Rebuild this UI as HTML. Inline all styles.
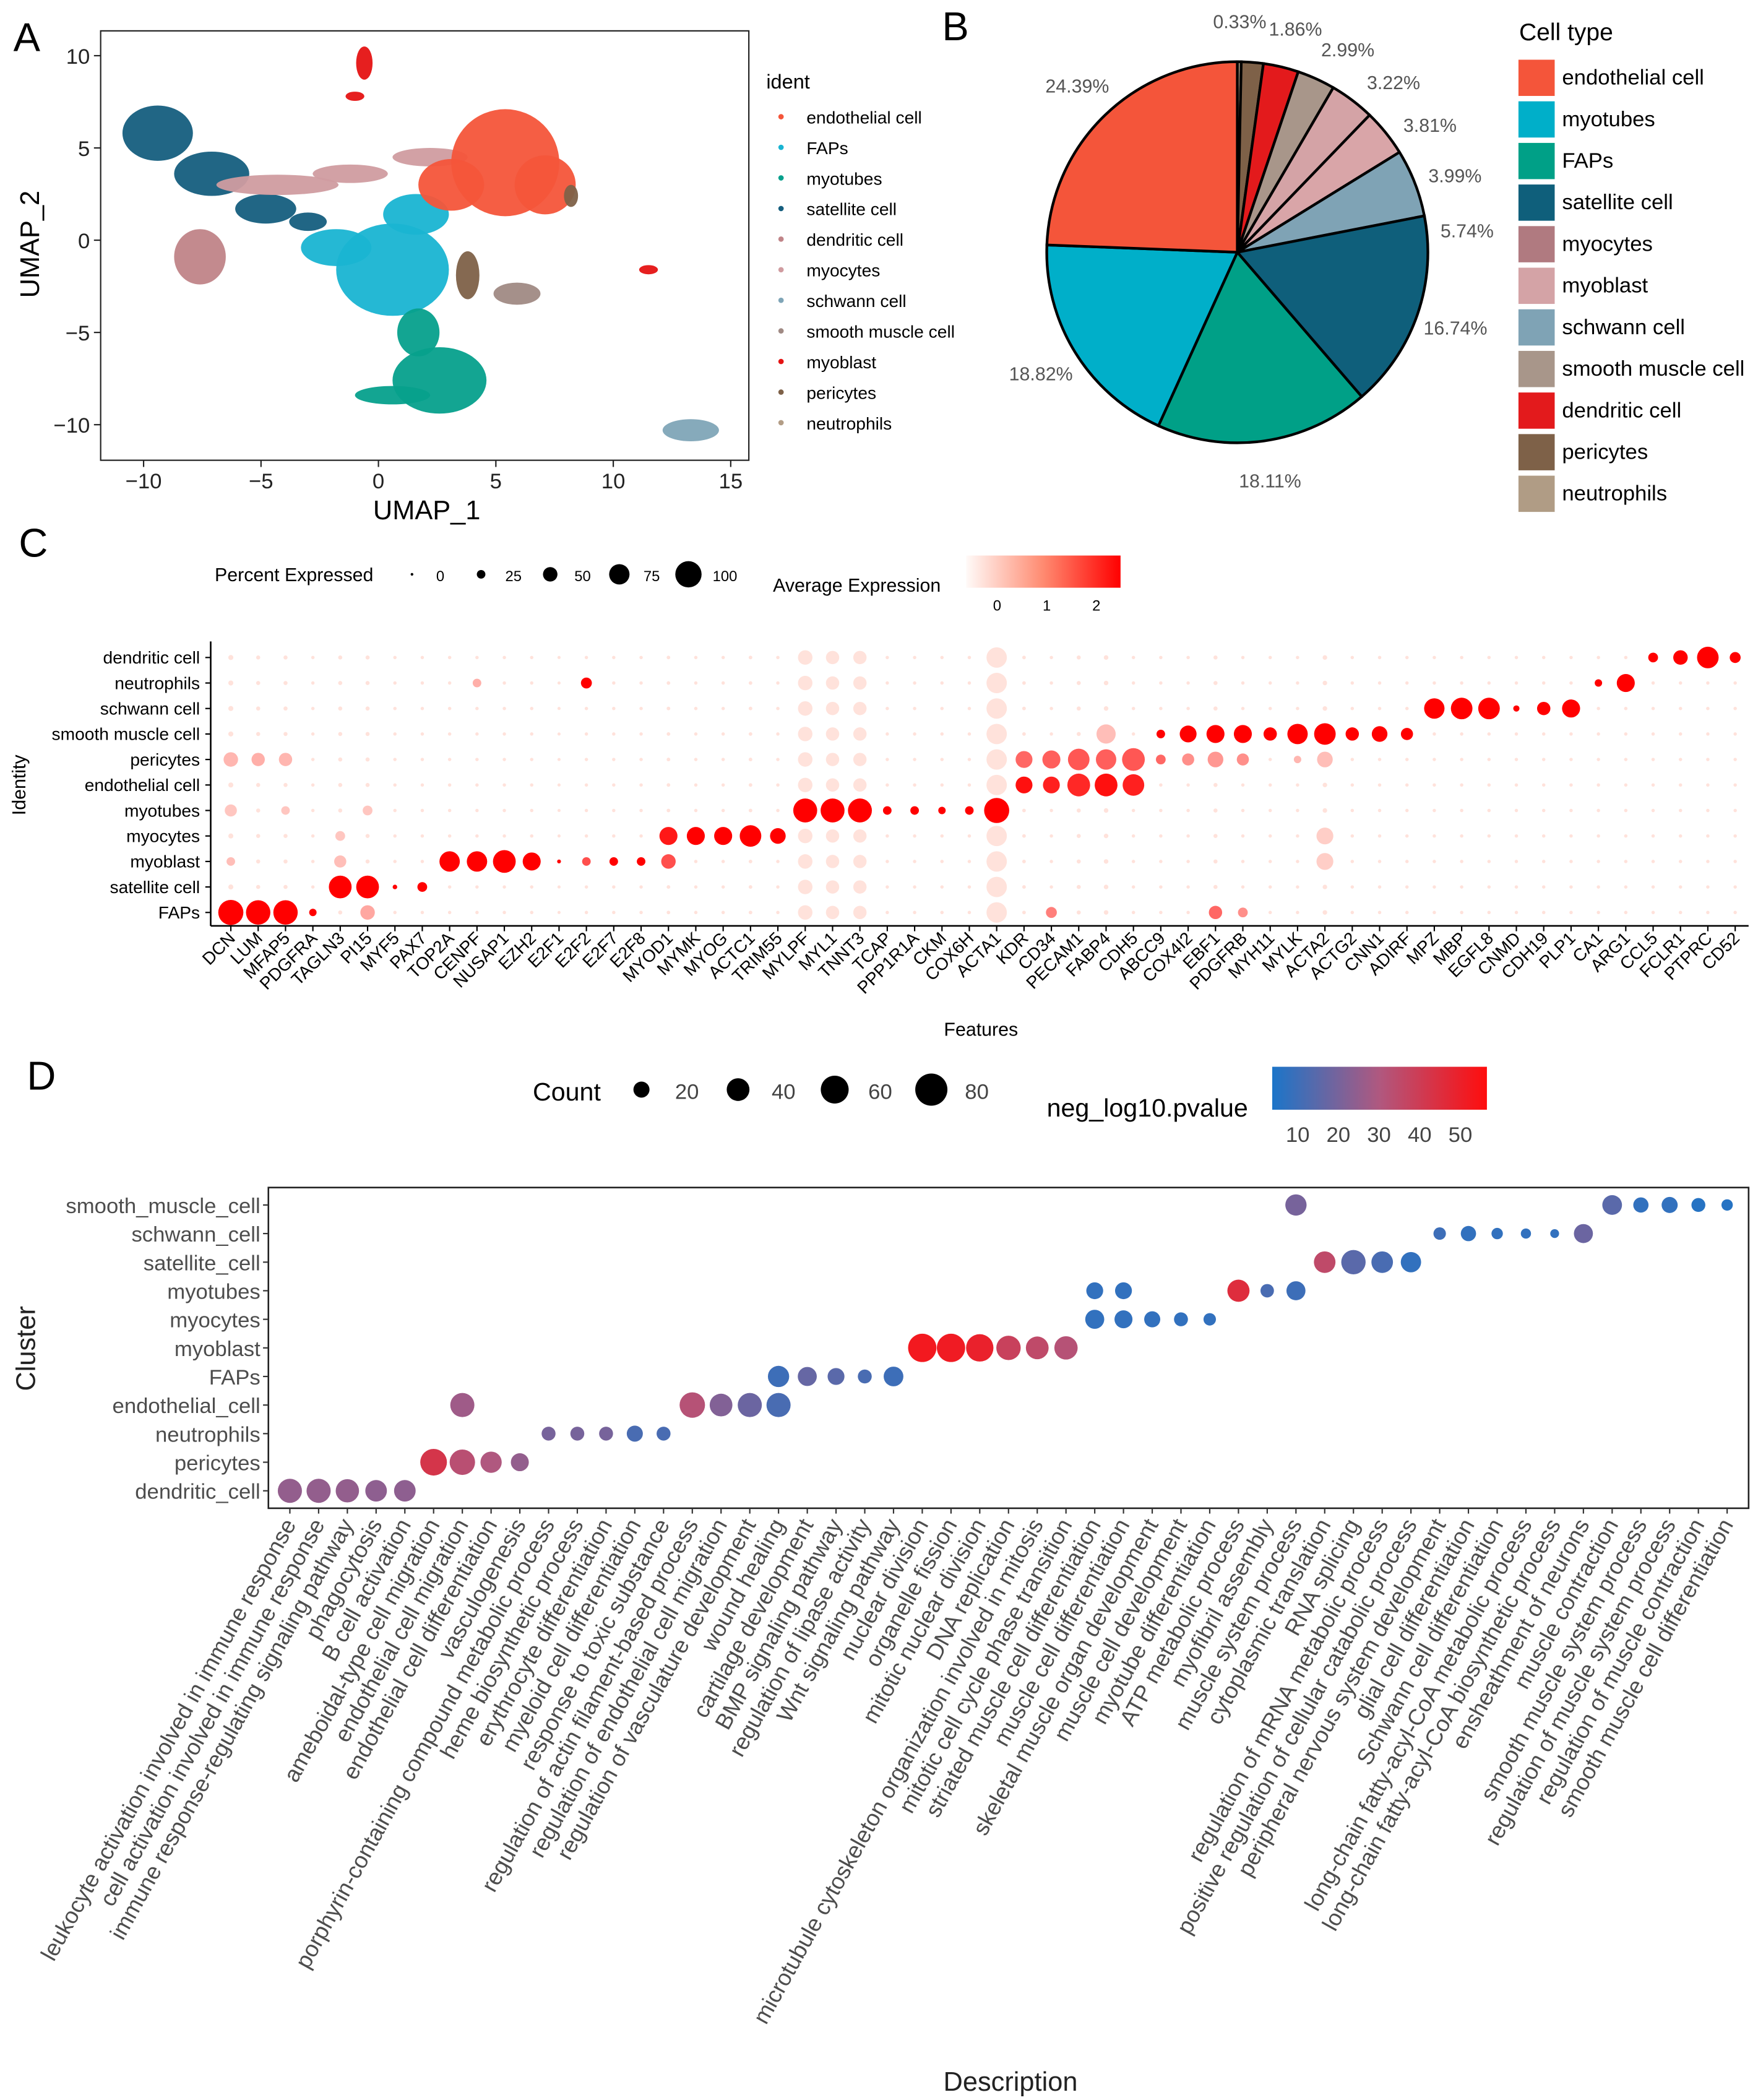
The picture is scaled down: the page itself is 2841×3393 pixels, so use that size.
<!DOCTYPE html>
<html><head><meta charset="utf-8"><style>
html,body{margin:0;padding:0;background:#fff;}
svg{display:block;font-family:"Liberation Sans",Arial,sans-serif;}
</style></head><body>
<svg id="fig" xmlns="http://www.w3.org/2000/svg" width="2841" height="3393" viewBox="0 0 1310 1565" preserveAspectRatio="none">
<rect x="0" y="0" width="1310" height="1565" fill="#fff"/>
<g id="panelA"></g>
<g id="panelB"></g>
<g id="panelC"></g>
<g id="panelD"></g>
</svg>
<script>
// ===== Panel A data =====
const umapXTicks = [-10,-5,0,5,10,15];
const umapYTicks = [10,5,0,-5,-10];
const identNames = ["endothelial cell","FAPs","myotubes","satellite cell","dendritic cell","myocytes","schwann cell","smooth muscle cell","myoblast","pericytes","neutrophils"];
const identColors = ["#f4553a","#19b4d2","#06a08c","#155e7e","#c08488","#d09ca0","#7fa5b7","#a08a84","#e51313","#7e6148","#b39d86"];
const blobIdent = ["satellite cell","satellite cell","satellite cell","satellite cell","dendritic cell","myocytes","myocytes","myocytes","FAPs","FAPs","FAPs","myotubes","myotubes","myotubes","endothelial cell","endothelial cell","endothelial cell","pericytes","smooth muscle cell","myoblast","myoblast","myoblast","schwann cell","pericytes"];
const blobX = [-9.4,-7.1,-4.8,-3.0,-7.6,-4.3,-1.2,2.2,0.6,-1.8,1.6,2.6,0.6,1.7,5.4,3.1,7.1,3.8,5.9,11.5,-0.6,-1.0,13.3,8.2];
const blobY = [5.8,3.6,1.7,1.0,-0.9,3.0,3.6,4.5,-1.6,-0.4,1.4,-7.6,-8.4,-5.0,4.2,3.0,3.0,-1.9,-2.9,-1.6,9.6,7.8,-10.3,2.4];
const blobRX = [1.5,1.6,1.3,0.8,1.1,2.6,1.6,1.6,2.4,1.5,1.4,2.0,1.6,0.9,2.3,1.4,1.3,0.5,1.0,0.4,0.35,0.4,1.2,0.3];
const blobRY = [1.5,1.2,0.8,0.5,1.5,0.55,0.5,0.5,2.5,1.0,1.1,1.8,0.5,1.3,2.9,1.4,1.6,1.3,0.6,0.25,0.9,0.25,0.6,0.6];
// ===== Panel B data =====
const pieLabels = ["neutrophils","pericytes","dendritic cell","smooth muscle cell","schwann cell","myoblast","myocytes","satellite cell","FAPs","myotubes","endothelial cell"];
const pieValues = [0.33,1.86,2.99,3.22,3.81,3.99,5.74,16.74,18.11,18.82,24.39];
const pieColors = ["#b09c85","#7e6148","#e31a1c","#a8968a","#d4a3a6","#d9a5a8","#7fa3b5","#0f5f7b","#00a087","#00afc9","#f4553a"];
const legendOrder = ["endothelial cell","myotubes","FAPs","satellite cell","myocytes","myoblast","schwann cell","smooth muscle cell","dendritic cell","pericytes","neutrophils"];
const legendColors = ["#f4553a","#00afc9","#00a087","#0f5f7b","#b07a80","#d4a3a6","#7fa3b5","#a8968a","#e31a1c","#7e6148","#b09c85"];
// ===== Panel C data =====
const genes = ["DCN","LUM","MFAP5","PDGFRA","TAGLN3","PI15","MYF5","PAX7","TOP2A","CENPF","NUSAP1","EZH2","E2F1","E2F2","E2F7","E2F8","MYOD1","MYMK","MYOG","ACTC1","TRIM55","MYLPF","MYL1","TNNT3","TCAP","PPP1R1A","CKM","COX6H","ACTA1","KDR","CD34","PECAM1","FABP4","CDH5","ABCC9","COX4I2","EBF1","PDGFRB","MYH11","MYLK","ACTA2","ACTG2","CNN1","ADIRF","MPZ","MBP","EGFL8","CNMD","CDH19","PLP1","CA1","ARG1","CCL5","FCLR1","PTPRC","CD52"];
const identC = ["FAPs","satellite cell","myoblast","myocytes","myotubes","endothelial cell","pericytes","smooth muscle cell","schwann cell","neutrophils","dendritic cell"];
const basePct = [10,6,6,3,6,6,3,3,3,3,3,3,2,3,3,3,4,3,3,4,3,50,45,45,3,3,3,3,75,4,3,6,8,3,3,3,6,3,3,3,8,3,3,3,3,3,3,3,3,3,3,3,3,3,3,3];
const mGene = ["DCN","LUM","MFAP5","PDGFRA","PI15","CD34","EBF1","PDGFRB",
"TAGLN3","PI15","MYF5","PAX7",
"TOP2A","CENPF","NUSAP1","EZH2","E2F1","E2F2","E2F7","E2F8","MYOD1","TAGLN3","DCN","ACTA2",
"MYOD1","MYMK","MYOG","ACTC1","TRIM55","TAGLN3","ACTA2",
"MYLPF","MYL1","TNNT3","TCAP","PPP1R1A","CKM","COX6H","ACTA1","DCN","PI15","MFAP5",
"KDR","CD34","PECAM1","FABP4","CDH5",
"DCN","LUM","MFAP5","KDR","CD34","PECAM1","FABP4","CDH5","ABCC9","COX4I2","EBF1","PDGFRB","MYLK","ACTA2",
"ABCC9","COX4I2","EBF1","PDGFRB","MYH11","MYLK","ACTA2","ACTG2","CNN1","ADIRF","FABP4",
"MPZ","MBP","EGFL8","CNMD","CDH19","PLP1",
"E2F2","CENPF","CA1","ARG1",
"CCL5","FCLR1","PTPRC","CD52"];
const mRow = ["FAPs","FAPs","FAPs","FAPs","FAPs","FAPs","FAPs","FAPs",
"satellite cell","satellite cell","satellite cell","satellite cell",
"myoblast","myoblast","myoblast","myoblast","myoblast","myoblast","myoblast","myoblast","myoblast","myoblast","myoblast","myoblast",
"myocytes","myocytes","myocytes","myocytes","myocytes","myocytes","myocytes",
"myotubes","myotubes","myotubes","myotubes","myotubes","myotubes","myotubes","myotubes","myotubes","myotubes","myotubes",
"endothelial cell","endothelial cell","endothelial cell","endothelial cell","endothelial cell",
"pericytes","pericytes","pericytes","pericytes","pericytes","pericytes","pericytes","pericytes","pericytes","pericytes","pericytes","pericytes","pericytes","pericytes",
"smooth muscle cell","smooth muscle cell","smooth muscle cell","smooth muscle cell","smooth muscle cell","smooth muscle cell","smooth muscle cell","smooth muscle cell","smooth muscle cell","smooth muscle cell","smooth muscle cell",
"schwann cell","schwann cell","schwann cell","schwann cell","schwann cell","schwann cell",
"neutrophils","neutrophils","neutrophils","neutrophils",
"dendritic cell","dendritic cell","dendritic cell","dendritic cell"];
const mPct = [95,92,92,20,50,35,45,30, 85,85,8,30, 75,75,85,65,5,25,25,25,50,40,25,60, 65,65,65,80,55,30,60, 90,90,90,25,25,20,25,95,40,30,25, 60,60,85,85,80, 50,45,45,60,65,80,75,85,30,40,55,40,20,55, 25,60,65,65,45,75,80,45,55,40,70, 75,80,80,15,45,65, 35,25,20,65, 30,50,80,35];
const mExpr = [2.5,2.5,2.5,2.5,0.4,0.9,1.2,0.7, 2.5,2.5,2.5,2.5, 2.5,2.5,2.5,2.5,2.5,1.5,2.5,2.5,1.5,0.1,0.1,-0.1, 2.2,2.5,2.5,2.5,2.5,0,-0.1, 2.5,2.5,2.5,2.5,2.5,2.5,2.5,2.5,0,0,0, 2.3,2.1,2.0,2.3,2.1, 0.2,0.3,0.2,1.2,1.3,1.4,1.3,1.4,1.2,0.7,0.6,0.7,0.2,0.1, 2.5,2.5,2.5,2.5,2.5,2.5,2.5,2.5,2.5,2.5,0.1, 2.5,2.5,2.5,2.5,2.5,2.5, 2.5,0.3,2.5,2.5, 2.5,2.5,2.5,2.5];
const pctLegend = [0,25,50,75,100];
const exprTicks = [0,1,2];
// ===== Panel D data =====
const descs = ["leukocyte activation involved in immune response","cell activation involved in immune response","immune response-regulating signaling pathway","phagocytosis","B cell activation","ameboidal-type cell migration","endothelial cell migration","endothelial cell differentiation","vasculogenesis","porphyrin-containing compound metabolic process","heme biosynthetic process","erythrocyte differentiation","myeloid cell differentiation","response to toxic substance","regulation of actin filament-based process","regulation of endothelial cell migration","regulation of vasculature development","wound healing","cartilage development","BMP signaling pathway","regulation of lipase activity","Wnt signaling pathway","nuclear division","organelle fission","mitotic nuclear division","DNA replication","microtubule cytoskeleton organization involved in mitosis","mitotic cell cycle phase transition","striated muscle cell differentiation","muscle cell differentiation","skeletal muscle organ development","muscle cell development","myotube differentiation","ATP metabolic process","myofibril assembly","muscle system process","cytoplasmic translation","RNA splicing","regulation of mRNA metabolic process","positive regulation of cellular catabolic process","peripheral nervous system development","glial cell differentiation","Schwann cell differentiation","long-chain fatty-acyl-CoA metabolic process","long-chain fatty-acyl-CoA biosynthetic process","ensheathment of neurons","muscle contraction","smooth muscle system process","regulation of muscle system process","regulation of muscle contraction","smooth muscle cell differentiation"];
const clusters = ["dendritic_cell","pericytes","neutrophils","endothelial_cell","FAPs","myoblast","myocytes","myotubes","satellite_cell","schwann_cell","smooth_muscle_cell"];
const dIdx = [0,1,2,3,4, 5,6,7,8, 6,14,15,16,17, 9,10,11,12,13, 17,18,19,20,21, 22,23,24,25,26,27, 28,29,30,31,32, 28,29,33,34,35, 35, 36,37,38,39, 40,41,42,43,44,45, 46,47,48,49,50];
const dRow = ["dendritic_cell","dendritic_cell","dendritic_cell","dendritic_cell","dendritic_cell",
"pericytes","pericytes","pericytes","pericytes",
"endothelial_cell","endothelial_cell","endothelial_cell","endothelial_cell","endothelial_cell",
"neutrophils","neutrophils","neutrophils","neutrophils","neutrophils",
"FAPs","FAPs","FAPs","FAPs","FAPs",
"myoblast","myoblast","myoblast","myoblast","myoblast","myoblast",
"myocytes","myocytes","myocytes","myocytes","myocytes",
"myotubes","myotubes","myotubes","myotubes","myotubes",
"smooth_muscle_cell",
"satellite_cell","satellite_cell","satellite_cell","satellite_cell",
"schwann_cell","schwann_cell","schwann_cell","schwann_cell","schwann_cell","schwann_cell",
"smooth_muscle_cell","smooth_muscle_cell","smooth_muscle_cell","smooth_muscle_cell","smooth_muscle_cell"];
const dCount = [45,45,42,36,36, 55,50,35,25, 45,50,40,45,45, 15,15,15,20,15, 35,28,22,15,30, 62,62,58,46,40,42, 28,25,20,15,12, 22,22,38,14,28, 35, 36,46,36,32, 12,18,10,8,6,28, 30,18,20,15,10];
const dP = [25,25,25,24,24, 42,33,30,25, 27,32,22,18,12, 20,20,20,12,12, 10,17,15,12,10, 52,51,49,38,35,32, 8,8,8,8,8, 8,8,45,12,10, 20, 35,15,12,8, 10,8,8,8,8,18, 15,8,8,6,6];
const countLegend = [20,40,60,80];
const pTicks = [10,20,30,40,50];

// ===== helpers =====
const NS="http://www.w3.org/2000/svg";
function mk(tag,parent,attrs,txt){const e=document.createElementNS(NS,tag);for(const k in attrs)e.setAttribute(k,attrs[k]);if(txt!==undefined)e.textContent=txt;parent.appendChild(e);return e;}
function lerp(a,b,t){return a+(b-a)*t;}
function rgb(r,g,b){return "rgb("+Math.round(r)+","+Math.round(g)+","+Math.round(b)+")";}

// ===== Panel A =====
(function(){
const g=document.getElementById('panelA');
const X0=75,X1=558,Y0=23,Y1=343;
const sx=u=>282+u*17.5, sy=v=>179-v*13.75;
let t=mk('text',g,{x:10,y:38,'font-size':30},'A');


let box=mk('rect',g,{x:X0,y:Y0,width:X1-X0,height:Y1-Y0,fill:'#fff',stroke:'#222','stroke-width':1});


blobIdent.forEach((n,i)=>{
 const c=identColors[identNames.indexOf(n)];
 const e=mk('ellipse',g,{cx:sx(blobX[i]),cy:sy(blobY[i]),rx:blobRX[i]*17.5,ry:blobRY[i]*13.75,fill:c,opacity:0.95});
 
 
});
umapXTicks.forEach(v=>{
 const l=mk('line',g,{x1:sx(v),x2:sx(v),y1:Y1,y2:Y1+5,stroke:'#222'});
 
 
 const tt=mk('text',g,{x:sx(v),y:Y1+21,'font-size':16,'text-anchor':'middle',fill:'#222'},v<0?'\u2212'+(-v):String(v));
 
 
});
umapYTicks.forEach(v=>{
 const l=mk('line',g,{x1:X0-5,x2:X0,y1:sy(v),y2:sy(v),stroke:'#222'});
 
 
 const tt=mk('text',g,{x:X0-8,y:sy(v)+6,'font-size':16,'text-anchor':'end',fill:'#222'},v<0?'\u2212'+(-v):String(v));
 
 
});
t=mk('text',g,{x:318,y:387,'font-size':20,'text-anchor':'middle'},'UMAP_1');


t=mk('text',g,{x:29,y:182,'font-size':20,'text-anchor':'middle',transform:'rotate(-90 29 182)'},'UMAP_2');


t=mk('text',g,{x:571,y:66,'font-size':15},'ident');


identNames.forEach((n,i)=>{
 const y=87+i*22.8;
 const c=mk('circle',g,{cx:582,cy:y,r:2,fill:identColors[i]});
 
 
 const tt=mk('text',g,{x:601,y:y+5,'font-size':13},n);
 
 
});
})();

// ===== Panel B =====
(function(){
const g=document.getElementById('panelB');
const cx=922,cy=188,R=142;
let t=mk('text',g,{x:702,y:30,'font-size':30},'B');


const total=pieValues.reduce((a,b)=>a+b,0);
let acc=0, prevDeg=-112;
pieValues.forEach((v,i)=>{
 const a0=acc/total*2*Math.PI-Math.PI/2; acc+=v; const a1=acc/total*2*Math.PI-Math.PI/2;
 const large=(a1-a0)>Math.PI?1:0;
 const d='M'+cx+','+cy+' L'+(cx+R*Math.cos(a0))+','+(cy+R*Math.sin(a0))+' A'+R+','+R+' 0 '+large+' 1 '+(cx+R*Math.cos(a1))+','+(cy+R*Math.sin(a1))+' Z';
 const p=mk('path',g,{d:d,fill:pieColors[i],stroke:'#000','stroke-width':2});
 
 
 let deg=(a0+a1)/2*180/Math.PI;
 if(deg<prevDeg+14) deg=prevDeg+14;
 prevDeg=deg;
 const am=deg*Math.PI/180, rr=R+30;
 const lx=cx+rr*Math.cos(am), ly=cy+rr*Math.sin(am)+5;
 const tt=mk('text',g,{x:lx,y:ly,'font-size':14,fill:'#555','text-anchor':'middle'},v.toFixed(2)+'%');
 
 
});
t=mk('text',g,{x:1132,y:30,'font-size':18},'Cell type');


legendOrder.forEach((n,i)=>{
 const y=44+i*31;
 const r=mk('rect',g,{x:1131,y:y,width:28,height:28,fill:legendColors[i],stroke:'#fff'});
 
 
 const tt=mk('text',g,{x:1164,y:y+19,'font-size':16},n);
 
 
});
})();

// ===== Panel C =====
(function(){
const g=document.getElementById('panelC');
const X0=157,X1=1303,Yb=690,Yt=478;
const gx=i=>172+i*((1293-172)/(genes.length-1));
const ry=i=>680-i*((680-490)/(identC.length-1));
const rad=p=>1+8.8*p/100;
const col=e=>{const t=Math.max(0,Math.min(1,(e+0.5)/3));return rgb(255,lerp(238,0,t),lerp(230,0,t));};
let t=mk('text',g,{x:14,y:415,'font-size':30},'C');


t=mk('text',g,{x:160,y:433,'font-size':14},'Percent Expressed');


pctLegend.forEach((p,i)=>{
 const x=307+i*51.5;
 const c=mk('circle',g,{cx:x,cy:428,r:rad(p),fill:'#000'});
 
 
 const tt=mk('text',g,{x:x+18,y:433,'font-size':11},String(p));
 
 
});
t=mk('text',g,{x:576,y:441,'font-size':14},'Average Expression');


const defs=mk('defs',g,{});
const lg=mk('linearGradient',defs,{id:'gradC',x1:0,x2:1,y1:0,y2:0});
mk('stop',lg,{offset:'0',  'stop-color':'#fffaf8'});
mk('stop',lg,{offset:'0.5','stop-color':'#ff8a70'});
mk('stop',lg,{offset:'1',  'stop-color':'#ff0000'});
const cb=mk('rect',g,{x:720,y:414,width:115,height:24,fill:'url(#gradC)'});


exprTicks.forEach(v=>{
 const x=743+v*37;
 const tt=mk('text',g,{x:x,y:455,'font-size':11,'text-anchor':'middle'},String(v));
 
 
});
genes.forEach((gn,i)=>{
 identC.forEach((r,j)=>{
  const c=mk('circle',g,{cx:gx(i),cy:ry(j),r:rad(basePct[i]),fill:col(-0.35)});
  
  
 });
});
mGene.forEach((gn,k)=>{
 const i=genes.indexOf(gn), j=identC.indexOf(mRow[k]);
 const c=mk('circle',g,{cx:gx(i),cy:ry(j),r:rad(mPct[k]),fill:col(mExpr[k])});
 
 
});
let l=mk('line',g,{x1:X0,x2:X0,y1:Yt,y2:Yb,stroke:'#000','stroke-width':1.2});


l=mk('line',g,{x1:X0,x2:X1,y1:Yb,y2:Yb,stroke:'#000','stroke-width':1.2});


identC.forEach((r,j)=>{
 const tk=mk('line',g,{x1:X0-4,x2:X0,y1:ry(j),y2:ry(j),stroke:'#000'});
 
 
 const tt=mk('text',g,{x:X0-8,y:ry(j)+4.5,'font-size':13,'text-anchor':'end'},r);
 
 
});
genes.forEach((gn,i)=>{
 const x=gx(i);
 const tk=mk('line',g,{x1:x,x2:x,y1:Yb,y2:Yb+4,stroke:'#000'});
 
 
 const tt=mk('text',g,{x:x+4,y:Yb+10,'font-size':13,'text-anchor':'end',transform:'rotate(-45 '+(x+4)+' '+(Yb+10)+')'},gn);
 
 
});
t=mk('text',g,{x:731,y:772,'font-size':14,'text-anchor':'middle'},'Features');


t=mk('text',g,{x:19,y:585,'font-size':14,'text-anchor':'middle',transform:'rotate(-90 19 585)'},'Identity');


})();

// ===== Panel D =====
(function(){
const g=document.getElementById('panelD');
const X0=200,X1=1303,Y0=885,Y1=1124;
const dx=i=>216+i*((1287-216)/(descs.length-1));
const dy=j=>1111-j*((1111-898)/(clusters.length-1));
const rad=c=>1.34*Math.sqrt(c);
const col=p=>{
 const a=[27,117,201],b=[176,88,127],c=[255,13,13];
 let t;if(p<=30){t=Math.max(0,(p-4)/26);return rgb(lerp(a[0],b[0],t),lerp(a[1],b[1],t),lerp(a[2],b[2],t));}
 t=Math.min(1,(p-30)/26);return rgb(lerp(b[0],c[0],t),lerp(b[1],c[1],t),lerp(b[2],c[2],t));
};
let t=mk('text',g,{x:20,y:812,'font-size':30},'D');


t=mk('text',g,{x:397,y:820,'font-size':19},'Count');


countLegend.forEach((c,i)=>{
 const x=478+i*72;
 const ci=mk('circle',g,{cx:x,cy:812,r:rad(c),fill:'#000'});
 
 
 const tt=mk('text',g,{x:x+25,y:819,'font-size':16,fill:'#444'},String(c));
 
 
});
t=mk('text',g,{x:780,y:832,'font-size':19},'neg_log10.pvalue');


const defs=mk('defs',g,{});
const lg=mk('linearGradient',defs,{id:'gradD',x1:0,x2:1,y1:0,y2:0});
mk('stop',lg,{offset:'0','stop-color':'#1b75c9'});
mk('stop',lg,{offset:'0.5','stop-color':'#b0587f'});
mk('stop',lg,{offset:'1','stop-color':'#ff0d0d'});
const cb=mk('rect',g,{x:948,y:795,width:160,height:32,fill:'url(#gradD)'});


pTicks.forEach(v=>{
 const x=967+(v-10)*3.03;
 const tt=mk('text',g,{x:x,y:851,'font-size':16,'text-anchor':'middle',fill:'#444'},String(v));
 
 
});
let box=mk('rect',g,{x:X0,y:Y0,width:X1-X0,height:Y1-Y0,fill:'#fff',stroke:'#222','stroke-width':1.2});


dIdx.forEach((i,k)=>{
 const j=clusters.indexOf(dRow[k]);
 const c=mk('circle',g,{cx:dx(i),cy:dy(j),r:rad(dCount[k]),fill:col(dP[k])});
 
 
});
clusters.forEach((c,j)=>{
 const tk=mk('line',g,{x1:X0-4,x2:X0,y1:dy(j),y2:dy(j),stroke:'#333'});
 
 
 const tt=mk('text',g,{x:X0-6,y:dy(j)+6,'font-size':16,'text-anchor':'end',fill:'#4d4d4d'},c);
 
 
});
descs.forEach((d,i)=>{
 const x=dx(i);
 const tk=mk('line',g,{x1:x,x2:x,y1:Y1,y2:Y1+4,stroke:'#333'});
 
 
 const tt=mk('text',g,{x:x+5,y:Y1+12,'font-size':17,'text-anchor':'end',fill:'#4d4d4d',transform:'rotate(-61 '+(x+5)+' '+(Y1+12)+')'},d);
 
 
});
t=mk('text',g,{x:753,y:1558,'font-size':20,'text-anchor':'middle',fill:'#222'},'Description');


t=mk('text',g,{x:26,y:1005,'font-size':20,'text-anchor':'middle',fill:'#222',transform:'rotate(-90 26 1005)'},'Cluster');


})();
</script>
</body></html>
